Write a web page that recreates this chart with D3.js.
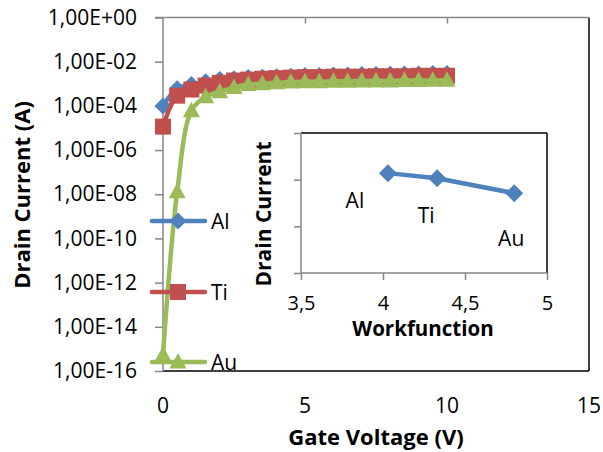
<!DOCTYPE html>
<html><head><meta charset="utf-8">
<script src="https://cdn.jsdelivr.net/npm/d3@7"></script>
<style>body{margin:0;background:#fff} text{font-family:"Open Sans",sans-serif;fill:#000}</style>
</head><body><svg id="c" width="603" height="452"></svg>
<script>
// ---------- data ----------
const gateVoltage = [0,0.5,1,1.5,2,2.5,3,3.5,4,4.5,5,5.5,6,6.5,7,7.5,8,8.5,9,9.5,10];
const alCurrent = [1.0e-4,6.0e-4,9.2e-4,1.25e-3,1.55e-3,1.7e-3,1.9e-3,2.0e-3,2.1e-3,2.2e-3,2.35e-3,2.4e-3,2.5e-3,2.5e-3,2.6e-3,2.6e-3,2.7e-3,2.8e-3,2.8e-3,2.9e-3,2.9e-3];
const tiCurrent = [1.15e-5,2.9e-4,5.5e-4,8.3e-4,1.1e-3,1.4e-3,1.55e-3,1.7e-3,1.8e-3,1.9e-3,2.0e-3,2.0e-3,2.1e-3,2.1e-3,2.1e-3,2.2e-3,2.2e-3,2.2e-3,2.3e-3,2.3e-3,2.3e-3];
const auCurrent = [5.3e-16,1.3e-8,6.0e-5,2.6e-4,4.4e-4,6.7e-4,9.2e-4,1.0e-3,1.1e-3,1.2e-3,1.25e-3,1.25e-3,1.3e-3,1.3e-3,1.35e-3,1.35e-3,1.35e-3,1.4e-3,1.4e-3,1.45e-3,1.45e-3];
const seriesNames = ["Al","Ti","Au"];
const seriesColors = ["#4F81BD","#C0504D","#9BBB59"];
const yTickValues = [1,1e-2,1e-4,1e-6,1e-8,1e-10,1e-12,1e-14,1e-16];
const yTickLabels = ["1,00E+00","1,00E-02","1,00E-04","1,00E-06","1,00E-08","1,00E-10","1,00E-12","1,00E-14","1,00E-16"];
const xTickValues = [0,5,10,15];
const xTickLabels = ["0","5","10","15"];
// inset
const insetMetals = ["Al","Ti","Au"];
const workfunction = [4.03,4.33,4.8];
const insetCurrent = [0.00214,0.00203,0.00171];
const insetXTicks = [3.5,4,4.5,5];
const insetXTickLabels = ["3,5","4","4,5","5"];
const insetYTicks = [0,0.001,0.002,0.003];

// ---------- drawing ----------
const svg = d3.select("#c");
const gray = "#868686";
const x = d3.scaleLinear().domain([0,15]).range([163,589]);
const y = d3.scaleLog().domain([1e-16,1]).range([371,17.5]);

// plot border (black right/bottom)
svg.append("line").attr("x1",x(0)).attr("x2",x(15)).attr("y1",y(1e-16)).attr("y2",y(1e-16)).attr("stroke","#000").attr("stroke-width",1.5);
svg.append("line").attr("x1",x(15)).attr("x2",x(15)).attr("y1",y(1)).attr("y2",y(1e-16)).attr("stroke","#000").attr("stroke-width",1.5);

// top x axis (gray, ticks inside)
const xAxis = d3.axisBottom(x).tickValues([5,10]).tickSize(6).tickFormat("");
const gx = svg.append("g").attr("transform",`translate(0,${y(1)})`).call(xAxis);
gx.select(".domain").remove();
gx.selectAll("line").attr("stroke",gray).attr("stroke-width",1.5);
svg.append("line").attr("x1",155).attr("x2",x(15)).attr("y1",y(1)).attr("y2",y(1)).attr("stroke",gray).attr("stroke-width",1.5);

// left y axis
const yAxis = d3.axisLeft(y).tickValues(yTickValues).tickSize(8).tickFormat((d,i)=>yTickLabels[i]);
const gy = svg.append("g").attr("transform",`translate(${x(0)},0)`).call(yAxis);
gy.select(".domain").attr("stroke",gray).attr("stroke-width",1.5).attr("d",`M0,${y(1)}V${y(1e-16)}`);
gy.selectAll(".tick line").attr("stroke",gray).attr("stroke-width",1.5);
gy.selectAll(".tick text").attr("x",-26).attr("font-size",21).attr("font-family","Open Sans");

// x tick labels at bottom
svg.append("g").selectAll("text").data(xTickValues).join("text")
  .attr("x",d=>x(d)).attr("y",412.5).attr("text-anchor","middle").attr("font-size",21)
  .text((d,i)=>xTickLabels[i]);

// axis titles
svg.append("text").attr("x",376).attr("y",445).attr("text-anchor","middle")
  .attr("font-size",22).attr("font-weight","bold").text("Gate Voltage (V)");
svg.append("text").attr("transform","translate(30,195) rotate(-90)").attr("text-anchor","middle")
  .attr("font-size",22).attr("font-weight","bold").text("Drain Current (A)");

// markers
const markerPath = [
  "M0,-8.5L8.5,0L0,8.5L-8.5,0Z",
  "M-8,-8H8V8H-8Z",
  "M0,-9L8.5,6.5L-8.5,6.5Z"
];
const allSeries = [alCurrent,tiCurrent,auCurrent];
const line = d3.line().x(d=>x(d[0])).y(d=>y(d[1])).curve(d3.curveCatmullRom.alpha(0.5));
allSeries.forEach((vals,si)=>{
  const pts = gateVoltage.map((v,i)=>[v,vals[i]]);
  svg.append("path").attr("d",line(pts)).attr("fill","none").attr("stroke",seriesColors[si])
    .attr("stroke-width",4.5).attr("stroke-linecap","round");
  svg.append("g").selectAll("path").data(pts).join("path")
    .attr("transform",d=>`translate(${x(d[0])},${y(d[1])})`)
    .attr("d",markerPath[si]).attr("fill",seriesColors[si]);
});

// legend
const legendY = [221,292,362];
seriesNames.forEach((n,i)=>{
  const g = svg.append("g").attr("transform",`translate(0,${legendY[i]})`);
  g.append("line").attr("x1",152).attr("x2",205).attr("stroke",seriesColors[i]).attr("stroke-width",4.5).attr("stroke-linecap","round");
  g.append("path").attr("transform","translate(178,0)").attr("d",markerPath[i]).attr("fill",seriesColors[i]);
  g.append("text").attr("x",211).attr("y",8).attr("font-size",21).text(n);
});

// ---------- inset ----------
const ix = d3.scaleLinear().domain([3.5,5]).range([301,547]);
const iy = d3.scaleLinear().domain([0,0.003]).range([273,133]);
svg.append("line").attr("x1",ix(3.5)).attr("x2",ix(5)).attr("y1",iy(0.003)).attr("y2",iy(0.003)).attr("stroke","#000").attr("stroke-width",1.5);
svg.append("line").attr("x1",ix(5)).attr("x2",ix(5)).attr("y1",iy(0.003)).attr("y2",iy(0)).attr("stroke","#000").attr("stroke-width",1.5);
const ixAxis = d3.axisBottom(ix).tickValues(insetXTicks).tickSize(7).tickFormat((d,i)=>insetXTickLabels[i]);
const gix = svg.append("g").attr("transform",`translate(0,${iy(0)})`).call(ixAxis);
gix.select(".domain").attr("stroke",gray).attr("stroke-width",1.5).attr("d",`M${ix(3.5)},0H${ix(5)}`);
gix.selectAll(".tick line").attr("stroke",gray).attr("stroke-width",1.5);
gix.selectAll(".tick text").attr("y",37).attr("dy",null).attr("font-size",20).attr("font-family","Open Sans");
const iyAxis = d3.axisLeft(iy).tickValues(insetYTicks).tickSize(7).tickFormat("");
const giy = svg.append("g").attr("transform",`translate(${ix(3.5)},0)`).call(iyAxis);
giy.select(".domain").attr("stroke",gray).attr("stroke-width",1.5).attr("d",`M0,${iy(0.003)}V${iy(0)}`);
giy.selectAll(".tick line").attr("stroke",gray).attr("stroke-width",1.5);

svg.append("text").attr("x",423).attr("y",336).attr("text-anchor","middle")
  .attr("font-size",20.5).attr("font-weight","bold").text("Workfunction");
svg.append("text").attr("transform","translate(271,214) rotate(-90)").attr("text-anchor","middle")
  .attr("font-size",21).attr("font-weight","bold").text("Drain Current");

const ipts = workfunction.map((w,i)=>[w,insetCurrent[i]]);
svg.append("path").attr("d",d3.line().x(d=>ix(d[0])).y(d=>iy(d[1]))(ipts))
  .attr("fill","none").attr("stroke","#4F81BD").attr("stroke-width",4.5).attr("stroke-linejoin","round");
svg.append("g").selectAll("path").data(ipts).join("path")
  .attr("transform",d=>`translate(${ix(d[0])},${iy(d[1])})`)
  .attr("d","M0,-9L9,0L0,9L-9,0Z").attr("fill","#4F81BD");
const labelOffset = [[-33,27],[-11,37],[-3,45]];
svg.append("g").selectAll("text").data(ipts).join("text")
  .attr("x",(d,i)=>ix(d[0])+labelOffset[i][0]).attr("y",(d,i)=>iy(d[1])+labelOffset[i][1]+8)
  .attr("text-anchor","middle").attr("font-size",21).text((d,i)=>insetMetals[i]);
</script></body></html>
